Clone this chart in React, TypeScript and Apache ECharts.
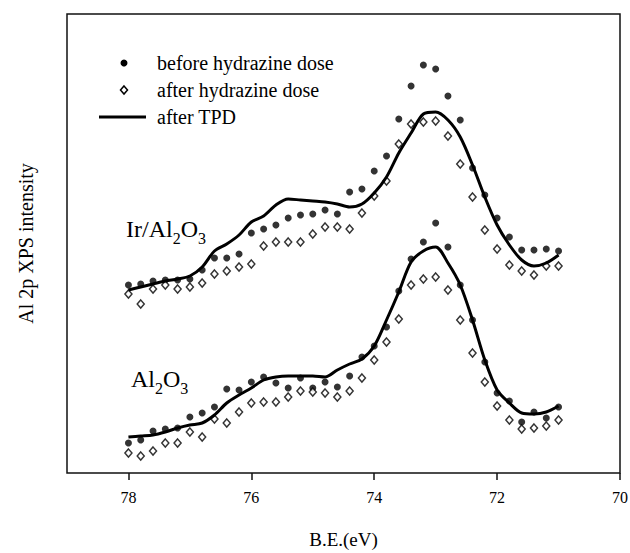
import React, { useEffect, useRef } from "react";
import * as echarts from "echarts";

// Binding energy (eV)
const be = [78.0, 77.8, 77.6, 77.4, 77.2, 77.0, 76.8, 76.6, 76.4, 76.2, 76.0, 75.8, 75.6, 75.4, 75.2, 75.0, 74.8, 74.6, 74.4, 74.2, 74.0, 73.8, 73.6, 73.4, 73.2, 73.0, 72.8, 72.6, 72.4, 72.2, 72.0, 71.8, 71.6, 71.4, 71.2, 71.0];

// Ir/Al2O3 (arbitrary intensity units, offset trace)
const irBefore = [188, 189, 192, 193, 193, 194, 203, 215, 215, 219, 240, 244, 248, 255, 258, 259, 263, 259, 281, 284, 302, 317, 354, 387, 408, 404, 377, 353, 305, 278, 255, 236, 223, 223, 224, 222];
const irAfter = [179, 169, 184, 188, 184, 186, 190, 199, 202, 206, 209, 227, 231, 231, 231, 239, 246, 246, 244, 260, 277, 292, 329, 349, 351, 352, 337, 309, 276, 243, 224, 208, 202, 198, 207, 207];
const irTPD = [183, 186, 189, 192, 194, 197, 206, 222, 229, 238, 251, 257, 268, 274, 273, 272, 271, 269, 266, 269, 280, 296, 320, 340, 359, 361, 353, 336, 308, 276, 248, 228, 213, 207, 210, 218];

// Al2O3
const alBefore = [30, 33, 42, 44, 45, 56, 60, 66, 84, 83, 91, 96, 90, 85, 95, 85, 91, 86, 97, 116, 127, 146, 182, 214, 231, 250, 226, 188, 153, 111, 80, 72, 51, 61, 55, 66];
const alAfter = [20, 17, 22, 30, 30, 41, 36, 54, 50, 61, 70, 71, 71, 76, 82, 81, 80, 76, 82, 95, 113, 131, 154, 188, 194, 196, 183, 153, 120, 91, 67, 53, 44, 45, 47, 53];
const alTPD = [36, 37, 38, 41, 45, 48, 50, 58, 70, 78, 85, 93, 96, 97, 97, 97, 96, 103, 109, 114, 127, 153, 181, 211, 222, 226, 210, 188, 153, 113, 83, 70, 60, 59, 61, 67];

const xTicks = [78, 76, 74, 72, 70];
const legendLabels = ["before hydrazine dose", "after hydrazine dose", "after TPD"];

const FONT = '"Liberation Serif", "Times New Roman", Times, serif';

const pair = (ys: number[]) => be.map((x, i) => [x, ys[i]]);

export default function App() {
  const ref = useRef<HTMLDivElement>(null);
  useEffect(() => {
    if (!ref.current) return;
    const chart = echarts.init(ref.current, null, { renderer: "svg" });
    const dotSeries = (name: string, ys: number[]) => ({
      name,
      type: "scatter",
      data: pair(ys),
      symbol: "circle",
      symbolSize: 7,
      itemStyle: { color: "#000" },
      z: 3,
    });
    const diaSeries = (name: string, ys: number[]) => ({
      name,
      type: "scatter",
      data: pair(ys),
      symbol: "diamond",
      symbolSize: [7, 8],
      itemStyle: { color: "#fff", borderColor: "#000", borderWidth: 1.5 },
      z: 3,
    });
    const lineSeries = (name: string, ys: number[]) => ({
      name,
      type: "line",
      data: pair(ys),
      showSymbol: false,
      smooth: 0.3,
      lineStyle: { color: "#000", width: 3 },
      z: 4,
    });
    const sub = (main1: string, s1: string, main2: string, s2: string) =>
      `{m|${main1}}{s|${s1}}{m|${main2}}{s|${s2}}`;
    const rich = {
      m: { fontSize: 24, fontFamily: FONT, lineHeight: 34, verticalAlign: "middle", fill: "#000" },
      s: { fontSize: 16, fontFamily: FONT, lineHeight: 16, verticalAlign: "bottom", fill: "#000" },
    };
    chart.setOption({
      animation: false,
      backgroundColor: "#fff",
      grid: {
        left: 67,
        right: 10,
        top: 14,
        bottom: 80,
        containLabel: false,
        outerBoundsMode: "none",
        show: true,
        borderColor: "#111",
        borderWidth: 1.5,
        backgroundColor: "transparent",
      },
      xAxis: {
        type: "value",
        min: 70,
        max: 79,
        inverse: true,
        name: "B.E.(eV)",
        nameLocation: "middle",
        nameGap: 57,
        nameTextStyle: { fontFamily: FONT, fontSize: 19, color: "#000" },
        axisLine: { show: false },
        splitLine: { show: false },
        axisTick: {
          show: true,
          inside: false,
          length: 7,
          customValues: xTicks,
          lineStyle: { color: "#111", width: 1.5 },
        },
        axisLabel: {
          customValues: xTicks,
          margin: 16,
          fontFamily: FONT,
          fontSize: 16,
          color: "#000",
        },
      },
      yAxis: {
        type: "value",
        min: 0,
        max: 459,
        name: "Al 2p XPS intensity",
        nameLocation: "middle",
        nameGap: 31,
        nameRotate: 90,
        nameTextStyle: { fontFamily: FONT, fontSize: 20, color: "#000" },
        axisLine: { show: false },
        axisTick: { show: false },
        axisLabel: { show: false },
        splitLine: { show: false },
      },
      graphic: [
        { type: "circle", shape: { cx: 124, cy: 63, r: 3.5 }, style: { fill: "#000" } },
        {
          type: "polygon",
          shape: { points: [[124, 86], [127.5, 90], [124, 94], [120.5, 90]] },
          style: { fill: "#fff", stroke: "#000", lineWidth: 1.5 },
        },
        { type: "line", shape: { x1: 99, y1: 117, x2: 146, y2: 117 }, style: { stroke: "#000", lineWidth: 3 } },
        { type: "text", x: 157, y: 63, style: { text: legendLabels[0], font: `20px ${FONT}`, fill: "#000", verticalAlign: "middle" } },
        { type: "text", x: 157, y: 90, style: { text: legendLabels[1], font: `20px ${FONT}`, fill: "#000", verticalAlign: "middle" } },
        { type: "text", x: 157, y: 117, style: { text: legendLabels[2], font: `20px ${FONT}`, fill: "#000", verticalAlign: "middle" } },
        { type: "text", x: 126, y: 212, style: { text: sub("Ir/Al", "2", "O", "3"), rich } },
        { type: "text", x: 131, y: 362, style: { text: sub("Al", "2", "O", "3"), rich } },
      ],
      series: [
        dotSeries("Ir before", irBefore),
        diaSeries("Ir after", irAfter),
        lineSeries("Ir TPD", irTPD),
        dotSeries("Al before", alBefore),
        diaSeries("Al after", alAfter),
        lineSeries("Al TPD", alTPD),
      ],
    });
    return () => chart.dispose();
  }, []);
  return (
    <div
      ref={ref}
      style={{ position: "absolute", left: 0, top: 0, width: 630, height: 553 }}
    />
  );
}
